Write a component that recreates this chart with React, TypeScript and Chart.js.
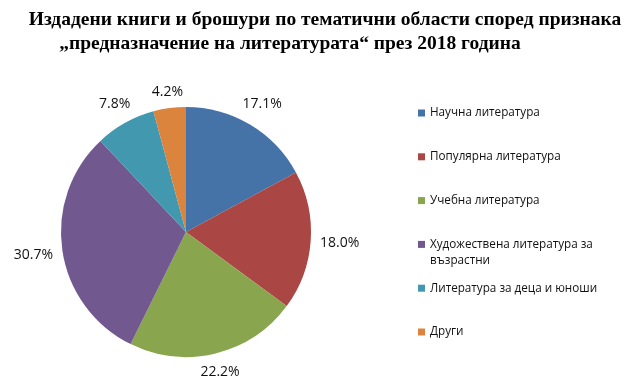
import React, { useEffect, useRef } from "react";
import { Chart, registerables } from "chart.js";
Chart.register(...registerables);

const titleLines = [
  "Издадени книги и брошури по тематични области според признака",
  "„предназначение на литературата“ през 2018 година",
];
const categories = [
  "Научна литература",
  "Популярна литература",
  "Учебна литература",
  "Художествена литература за възрастни",
  "Литература за деца и юноши",
  "Други",
];
const legendLines = [
  ["Научна литература"],
  ["Популярна литература"],
  ["Учебна литература"],
  ["Художествена литература за", "възрастни"],
  ["Литература за деца и юноши"],
  ["Други"],
];
const values = [17.1, 18.0, 22.2, 30.7, 7.8, 4.2];
const colors = ["#4572A7", "#AA4643", "#89A54E", "#71588F", "#4198AF", "#DB843D"];

const overlay = {
  id: "overlay",
  afterDraw(chart: any) {
    const ctx = chart.ctx;
    ctx.save();
    // title
    ctx.fillStyle = "#000";
    ctx.font = "bold 19.5px 'Liberation Serif'";
    ctx.textAlign = "center";
    ctx.textBaseline = "alphabetic";
    ctx.fillText(titleLines[0], 325, 25);
    ctx.fillText(titleLines[1], 290, 49);

    // data labels
    const meta = chart.getDatasetMeta(0);
    ctx.font = "14px 'Open Sans'";
    ctx.fillStyle = "#111";
    ctx.textBaseline = "middle";
    meta.data.forEach((arc: any, i: number) => {
      const p = arc.getProps(["x", "y", "startAngle", "endAngle", "outerRadius"], true);
      const mid = (p.startAngle + p.endAngle) / 2;
      const text = values[i].toFixed(1) + "%";
      const w = ctx.measureText(text).width;
      const h = 11;
      const c = Math.cos(mid), s = Math.sin(mid);
      const dist = p.outerRadius + 9 + Math.abs(c) * w / 2 + Math.abs(s) * h / 2;
      ctx.fillText(text, p.x + c * dist, p.y + s * dist);
    });

    // legend
    ctx.textAlign = "left";
    ctx.font = "11.7px 'Open Sans'";
    legendLines.forEach((lines, i) => {
      const y = 113 + i * 43.8;
      ctx.fillStyle = colors[i];
      ctx.fillRect(418, y - 3.5, 7, 7);
      ctx.fillStyle = "#111";
      lines.forEach((ln, j) => ctx.fillText(ln, 430, y + j * 16));
    });
    ctx.restore();
  },
};

export default function App() {
  const ref = useRef<HTMLCanvasElement>(null);
  useEffect(() => {
    document.body.style.margin = "0";
    const chart = new Chart(ref.current!, {
      type: "pie",
      data: {
        labels: categories,
        datasets: [
          {
            data: values,
            backgroundColor: colors,
            borderWidth: 0,
          },
        ],
      },
      options: {
        animation: false,
        responsive: false,
        layout: { padding: { top: 107, bottom: 32, left: 61, right: 319 } },
        plugins: {
          legend: { display: false },
          title: { display: false },
          tooltip: { enabled: false },
        },
      },
      plugins: [overlay],
    });
    return () => chart.destroy();
  }, []);
  return (
    <div style={{ position: "absolute", left: 0, top: 0, width: 630, height: 389, background: "#fff" }}>
      <canvas ref={ref} width={630} height={389} style={{ width: 630, height: 389 }} />
    </div>
  );
}
